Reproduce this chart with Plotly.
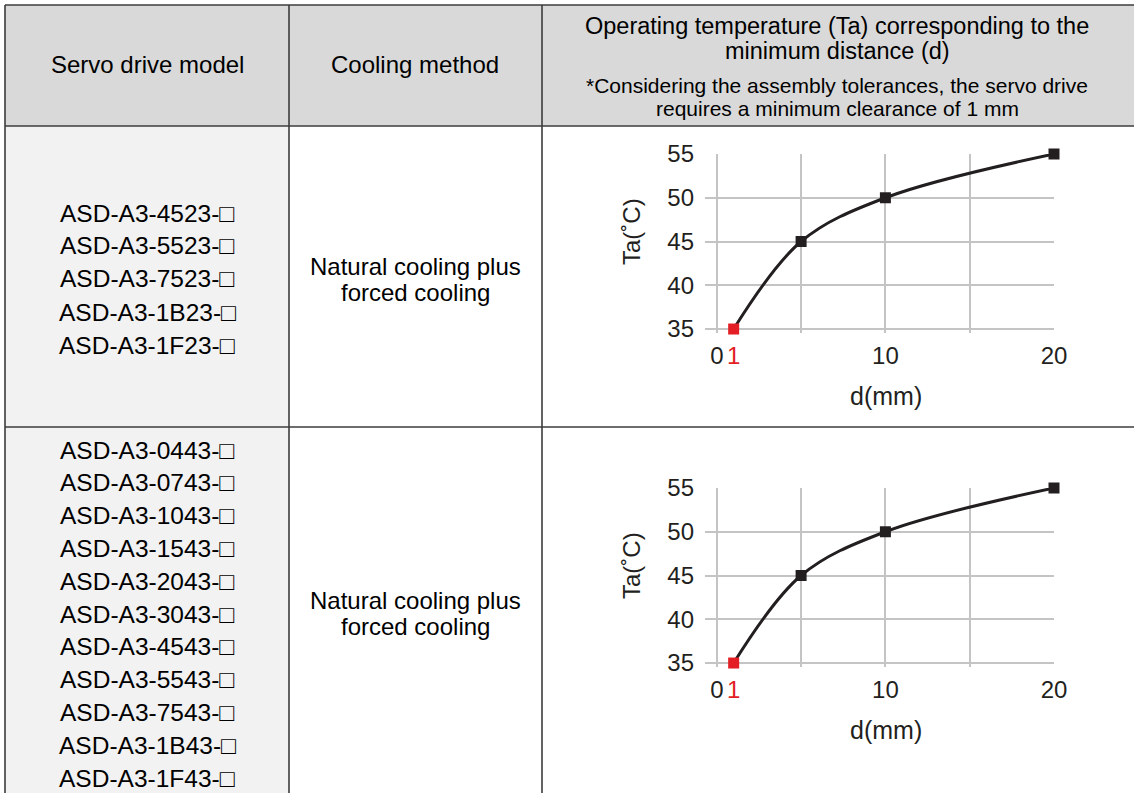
import plotly.graph_objects as go

W, H = 1134, 793

# ---------------- data ----------------
distance_mm = [1, 5, 10, 20]
temperature_c = [35, 45, 50, 55]
point_colors = ["#e31e24", "#231f20", "#231f20", "#231f20"]
y_tick_values = [35, 40, 45, 50, 55]
x_grid_values = [0, 5, 10, 15, 20]
x_label_values = [0, 1, 10, 20]
x_label_text = ["0", "<span style='color:#e31e24'>1</span>", "10", "20"]

header_left = "Servo drive model"
header_mid = "Cooling method"
header_right = ["Operating temperature (Ta) corresponding to the", "minimum distance (d)"]
header_note = ["*Considering the assembly tolerances, the servo drive",
               "requires a minimum clearance of 1 mm"]
group1_models = ["ASD-A3-4523-\u25a1", "ASD-A3-5523-\u25a1", "ASD-A3-7523-\u25a1",
                 "ASD-A3-1B23-\u25a1", "ASD-A3-1F23-\u25a1"]
group2_models = ["ASD-A3-0443-\u25a1", "ASD-A3-0743-\u25a1", "ASD-A3-1043-\u25a1",
                 "ASD-A3-1543-\u25a1", "ASD-A3-2043-\u25a1", "ASD-A3-3043-\u25a1",
                 "ASD-A3-4543-\u25a1", "ASD-A3-5543-\u25a1", "ASD-A3-7543-\u25a1",
                 "ASD-A3-1B43-\u25a1", "ASD-A3-1F43-\u25a1"]
cooling_method = ["Natural cooling plus", "forced cooling"]
x_title = "d(mm)"
y_title = "Ta(\u02daC)"

# ---------------- layout helpers (pixel -> paper) ----------------
def fx(p):
    return p / W

def fy(p):
    return 1 - p / H

FONT = "Liberation Sans, Arial, DejaVu Sans, sans-serif"
BORDER = "#3c3c3c"
GRID = "#c4c4c4"
INK = "#231f20"

x_left, x_c1, x_c2, x_right = 5, 289, 542, 1140
y_top, y_h, y_r1, y_bot = 5, 126, 427, 800

fig = go.Figure()

charts = [
    (154, 333.4, "x", "y"),
    (488, 667.4, "x2", "y2"),
]

for top, bot, xa, ya in charts:
    fig.add_trace(go.Scatter(
        x=distance_mm, y=temperature_c, mode="lines",
        line=dict(color=INK, width=3, shape="spline", smoothing=1.0),
        xaxis=xa, yaxis=ya, cliponaxis=False, hoverinfo="skip"))
    fig.add_trace(go.Scatter(
        x=distance_mm, y=temperature_c, mode="markers",
        marker=dict(symbol="square", size=11, color=point_colors, line=dict(width=0)),
        xaxis=xa, yaxis=ya, cliponaxis=False, hoverinfo="skip"))

shapes = []
shapes.append(dict(type="rect", xref="paper", yref="paper", layer="below",
                   x0=fx(x_left), x1=fx(x_right), y0=fy(y_h), y1=fy(y_top),
                   fillcolor="#d9d9d9", line=dict(width=0)))
shapes.append(dict(type="rect", xref="paper", yref="paper", layer="below",
                   x0=fx(x_left), x1=fx(x_c1), y0=fy(y_bot), y1=fy(y_h),
                   fillcolor="#f2f2f2", line=dict(width=0)))
for yy in (y_top, y_h, y_r1):
    shapes.append(dict(type="line", xref="paper", yref="paper",
                       x0=fx(x_left), x1=fx(x_right), y0=fy(yy), y1=fy(yy),
                       line=dict(color=BORDER, width=1.6)))
for xx in (x_left, x_c1, x_c2):
    shapes.append(dict(type="line", xref="paper", yref="paper",
                       x0=fx(xx), x1=fx(xx), y0=fy(y_top), y1=fy(y_bot),
                       line=dict(color=BORDER, width=1.6)))

annotations = []

def label(text, xp, yp, size=24, color="#000000", angle=0):
    annotations.append(dict(text=text, x=fx(xp), y=fy(yp), xref="paper", yref="paper",
                            showarrow=False, xanchor="center", yanchor="middle",
                            textangle=angle, font=dict(family=FONT, size=size, color=color)))

label(header_left, 147, 65, size=24)
label(header_mid, 415, 65, size=24)
for i, t in enumerate(header_right):
    label(t, 837, 26 + i * 25, size=23.5)
for i, t in enumerate(header_note):
    label(t, 837, 86 + i * 22, size=21)

for i, t in enumerate(group1_models):
    label(t, 147, 279 + (i - 2) * 33, size=24.5)
for i, t in enumerate(cooling_method):
    label(t, 415, 266 + i * 26.5)

for i, t in enumerate(group2_models):
    label(t, 147, 450 + i * 32.8, size=24.5)
for i, t in enumerate(cooling_method):
    label(t, 415, 600 + i * 26.5)

label(y_title, 631, 232, size=24, color=INK, angle=-90)
label(x_title, 886, 396, size=25, color=INK)
label(y_title, 631, 566, size=24, color=INK, angle=-90)
label(x_title, 886, 730, size=25, color=INK)

def xaxis_cfg(anchor):
    return dict(domain=[fx(705), fx(1054)], range=[-0.7, 20], anchor=anchor,
                automargin=False,
                tickmode="array", tickvals=x_label_values, ticktext=x_label_text,
                showgrid=False, zeroline=False, showline=False, ticks="",
                ticklabelstandoff=6,
                minor=dict(tickvals=x_grid_values, showgrid=True, gridcolor=GRID,
                           gridwidth=1.6, ticks=""),
                tickfont=dict(family=FONT, size=24, color=INK), fixedrange=True)

def yaxis_cfg(anchor, top, bot):
    return dict(domain=[fy(bot), fy(top)], range=[34.5, 55], anchor=anchor,
                automargin=False,
                tickmode="array", tickvals=y_tick_values,
                showgrid=True, gridcolor=GRID, gridwidth=1.6,
                zeroline=False, showline=False, ticks="", ticklabelstandoff=10,
                tickfont=dict(family=FONT, size=24, color=INK), fixedrange=True)

fig.update_layout(
    width=W, height=H, margin=dict(l=0, r=0, t=0, b=0, pad=0, autoexpand=False),
    paper_bgcolor="white", plot_bgcolor="rgba(0,0,0,0)",
    showlegend=False, shapes=shapes, annotations=annotations,
    xaxis=xaxis_cfg("y"), yaxis=yaxis_cfg("x", 154, 333.4),
    xaxis2=xaxis_cfg("y2"), yaxis2=yaxis_cfg("x2", 488, 667.4),
)

fig.write_html("out.html", config={"displayModeBar": False},
               post_script="document.body.style.margin='0';")
